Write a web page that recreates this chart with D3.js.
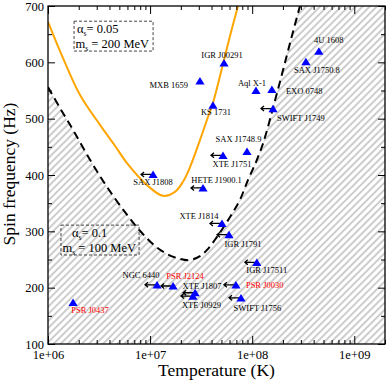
<!DOCTYPE html>
<html>
<head>
<meta charset="utf-8">
<script src="https://cdn.jsdelivr.net/npm/d3@7"></script>
<style>
  body { margin: 0; background: #fff; }
  #chart { width: 387px; height: 382px; }
  text { font-family: "Liberation Serif", "Times New Roman", serif; }
</style>
</head>
<body>
<div id="chart"></div>
<script>

// SOURCES (temperature in K, spin frequency in Hz)

const sourceNames = ["4U 1608", "SAX J1750.8", "IGR J00291", "MXB 1659", "KS 1731", "Aql X-1",
    "EXO 0748", "SWIFT J1749", "SAX J1748.9", "XTE J1751", "HETE J1900.1", "SAX J1808",
    "XTE J1814", "IGR J1791", "IGR J17511", "PSR J0030", "SWIFT J1756", "XTE J1807",
    "XTE J0929", "PSR J2124", "NGC 6440", "PSR J0437"];
const sourceTemps = [4.5e8, 3.36e8, 5.3e7, 3.08e7, 4.13e7, 1.09e8,
    1.56e8, 1.6e8, 8.9e7, 5.18e7, 3.3e7, 1.07e7,
    5.06e7, 5.93e7, 1.11e8, 6.93e7, 7.77e7, 2.76e7,
    2.63e7, 1.68e7, 1.17e7, 1.76e6];
const sourceFreqs = [620, 601, 599, 567, 524, 550,
    552, 518, 442, 435, 377, 401,
    314, 294, 245, 205, 182, 191,
    185, 203, 205, 174];

const redSources = ["PSR J0030", "PSR J2124", "PSR J0437"];

// temperature only an upper limit -> arrow to the left
const upperLimits = ["SWIFT J1749", "XTE J1751", "HETE J1900.1", "SAX J1808", "XTE J1814",
    "IGR J1791", "IGR J17511", "PSR J0030", "SWIFT J1756", "XTE J1807", "XTE J0929",
    "PSR J2124", "NGC 6440"];

// INSTABILITY CURVES

// alpha_s = 0.05, m_s = 200 MeV (orange)
const orangeTemps = [1.0e6, 1.4e6, 2.06e6, 3.23e6, 4.53e6, 5.94e6, 9.33e6, 1.34e7, 1.75e7,
    2.1e7, 2.46e7, 3.08e7, 3.61e7, 4.13e7, 5.18e7, 6.07e7, 7.26e7];
const orangeFreqs = [672, 608, 542, 489, 452, 421, 382, 363, 370,
    388, 414, 462, 498, 528, 597, 647, 700];

// alpha_s = 0.1, m_s = 100 MeV (black dashed)
const dashedTemps = [1.0e6, 1.31e6, 1.76e6, 2.58e6, 3.78e6, 5.68e6, 7.96e6, 1.12e7, 1.46e7,
    1.96e7, 2.46e7, 3.08e7, 3.61e7, 4.32e7, 5.18e7, 6.34e7, 7.59e7, 9.09e7, 1.09e8,
    1.25e8, 1.4e8, 1.6e8, 1.87e8, 2.19e8, 2.51e8, 2.94e8];
const dashedFreqs = [556, 519, 480, 427, 379, 334, 301, 274, 260,
    251, 249, 256, 267, 285, 306, 331, 356, 391, 423,
    451, 480, 519, 565, 613, 654, 700];

// TICKS

const xTicks = [1e6, 1e7, 1e8, 1e9];
const xTickLabels = ["1e+06", "1e+07", "1e+08", "1e+09"];
const yTicks = [100, 200, 300, 400, 500, 600, 700];
const yMinorTicks = [150, 250, 350, 450, 550, 650];

// label placement (pixels from marker): [dx, dy, anchor]
const labelPos = {
    "4U 1608": [10, -8, "middle"],
    "SAX J1750.8": [11, 11, "middle"],
    "IGR J00291": [-2, -5, "middle"],
    "MXB 1659": [-12, 7, "end"],
    "KS 1731": [3, 10, "middle"],
    "Aql X-1": [-4, -4.5, "middle"],
    "EXO 0748": [14, 4.5, "start"],
    "SWIFT J1749": [4, 12, "start"],
    "SAX J1748.9": [-8.5, -9.5, "middle"],
    "XTE J1751": [9, 11.5, "middle"],
    "HETE J1900.1": [13.5, -5, "middle"],
    "SAX J1808": [0, 11, "middle"],
    "XTE J1814": [-23, -4, "middle"],
    "IGR J1791": [14, 12.5, "middle"],
    "IGR J17511": [10, 11, "middle"],
    "PSR J0030": [10, 3, "start"],
    "SWIFT J1756": [16.5, 13, "middle"],
    "XTE J1807": [7, -3.5, "middle"],
    "XTE J0929": [8.5, 12, "middle"],
    "PSR J2124": [12, -7, "middle"],
    "NGC 6440": [-16, -7, "middle"],
    "PSR J0437": [17, 11, "middle"]
};

// SVG CANVAS

const width = 387;
const height = 382;
const margin = {top: 6, left: 48, right: 2, bottom: 38};

const svg = d3.select("#chart")
    .append("svg")
    .attr("width", width)
    .attr("height", height);

const defs = svg.append("defs");

const hatch = defs.append("pattern")
    .attr("id", "hatch")
    .attr("patternUnits", "userSpaceOnUse")
    .attr("width", 5)
    .attr("height", 5)
    .attr("patternTransform", "rotate(45)");
hatch.append("rect").attr("width", 5).attr("height", 5).attr("fill", "#ffffff");
hatch.append("rect").attr("width", 2).attr("height", 5).attr("fill", "#cdcdcd");

defs.append("clipPath")
    .attr("id", "plotClip")
    .append("rect")
    .attr("x", margin.left)
    .attr("y", margin.top)
    .attr("width", width - margin.left - margin.right)
    .attr("height", height - margin.top - margin.bottom);

// SCALES

const xScale = d3.scaleLog()
    .domain([1e6, 2e9])
    .range([margin.left, width - margin.right]);

const yScale = d3.scaleLinear()
    .domain([100, 700])
    .range([height - margin.bottom, margin.top]);

const g = svg.append("g");
const plot = g.append("g").attr("clip-path", "url(#plotClip)");

// HATCHED BACKGROUND, white above dashed curve

plot.append("rect")
    .attr("x", margin.left)
    .attr("y", margin.top)
    .attr("width", width - margin.left - margin.right)
    .attr("height", height - margin.top - margin.bottom)
    .attr("fill", "url(#hatch)");

const dashedData = dashedTemps.map(function(t, i) { return {t: t, f: dashedFreqs[i]}; });
const orangeData = orangeTemps.map(function(t, i) { return {t: t, f: orangeFreqs[i]}; });

const whiteArea = d3.area()
    .x(function(d) { return xScale(d.t); })
    .y0(margin.top)
    .y1(function(d) { return yScale(d.f); })
    .curve(d3.curveCatmullRom);

plot.append("path")
    .datum(dashedData)
    .attr("d", whiteArea)
    .attr("fill", "#ffffff");

// BOXES

function drawBox(t0, t1, f0, f1, line1, line2, first) {
    const bx = xScale(t0), by = yScale(f0);
    const bw = xScale(t1) - bx, bh = yScale(f1) - by;
    g.append("rect")
        .attr("x", bx).attr("y", by)
        .attr("width", bw).attr("height", bh)
        .attr("fill", "none")
        .attr("stroke", "#444")
        .attr("stroke-width", 1)
        .attr("stroke-dasharray", "3,2");
    const t1el = g.append("text")
        .attr("x", bx + first).attr("y", by + 12)
        .attr("font-size", 12.5);
    t1el.append("tspan").text("α");
    t1el.append("tspan").attr("font-size", 7.5).attr("dy", 2.5).text("s");
    t1el.append("tspan").attr("dy", -2.5).text("= " + line1);
    const t2el = g.append("text")
        .attr("x", bx + 1.5).attr("y", by + 27)
        .attr("font-size", 12.5);
    t2el.append("tspan").text("m");
    t2el.append("tspan").attr("font-size", 7.5).attr("dy", 2.5).text("s");
    t2el.append("tspan").attr("dy", -2.5).text(" = " + line2);
}

drawBox(1.8e6, 1.07e7, 673, 620, "0.05", "200 MeV", 3);
drawBox(1.34e6, 7.8e6, 311, 258, "0.1", "100 MeV", 11);

// CURVES

const line = d3.line()
    .x(function(d) { return xScale(d.t); })
    .y(function(d) { return yScale(d.f); })
    .curve(d3.curveCatmullRom);

plot.append("path")
    .datum(orangeData)
    .attr("d", line)
    .attr("fill", "none")
    .attr("stroke", "#ffa500")
    .attr("stroke-width", 2);

plot.append("path")
    .datum(dashedData)
    .attr("d", line)
    .attr("fill", "none")
    .attr("stroke", "#000")
    .attr("stroke-width", 2)
    .attr("stroke-dasharray", "8,5");

// AXES

const xMinor = [];
[1e6, 1e7, 1e8, 1e9].forEach(function(dec) {
    for (let m = 2; m <= 9; m++) {
        if (m * dec <= 2e9) xMinor.push(m * dec);
    }
});

function styleAxis(sel) {
    sel.select(".domain").remove();
    sel.selectAll("line").attr("stroke", "#000").attr("stroke-width", 1);
    sel.selectAll("text")
        .attr("fill", "#000")
        .attr("font-size", 12.5)
        .attr("font-family", "Liberation Serif, serif");
}

g.append("g")
    .attr("transform", `translate(0,${height - margin.bottom})`)
    .call(d3.axisBottom(xScale).tickValues(xTicks).tickSize(-8).tickPadding(6)
        .tickFormat(function(d, i) { return xTickLabels[i]; }))
    .call(styleAxis);
g.append("g")
    .attr("transform", `translate(0,${height - margin.bottom})`)
    .call(d3.axisBottom(xScale).tickValues(xMinor).tickSize(-4).tickFormat(""))
    .call(styleAxis);
g.append("g")
    .attr("transform", `translate(0,${margin.top})`)
    .call(d3.axisTop(xScale).tickValues(xTicks).tickSize(-8).tickFormat(""))
    .call(styleAxis);
g.append("g")
    .attr("transform", `translate(0,${margin.top})`)
    .call(d3.axisTop(xScale).tickValues(xMinor).tickSize(-4).tickFormat(""))
    .call(styleAxis);

g.append("g")
    .attr("transform", `translate(${margin.left},0)`)
    .call(d3.axisLeft(yScale).tickValues(yTicks).tickSize(-7).tickPadding(4))
    .call(styleAxis);
g.append("g")
    .attr("transform", `translate(${margin.left},0)`)
    .call(d3.axisLeft(yScale).tickValues(yMinorTicks).tickSize(-4).tickFormat(""))
    .call(styleAxis);
g.append("g")
    .attr("transform", `translate(${width - margin.right},0)`)
    .call(d3.axisRight(yScale).tickValues(yTicks).tickSize(-7).tickFormat(""))
    .call(styleAxis);
g.append("g")
    .attr("transform", `translate(${width - margin.right},0)`)
    .call(d3.axisRight(yScale).tickValues(yMinorTicks).tickSize(-4).tickFormat(""))
    .call(styleAxis);

g.append("rect")
    .attr("x", margin.left)
    .attr("y", margin.top)
    .attr("width", width - margin.left - margin.right)
    .attr("height", height - margin.top - margin.bottom)
    .attr("fill", "none")
    .attr("stroke", "#000")
    .attr("stroke-width", 1.3);

// AXIS LABELS

g.append("text")
    .attr("x", (margin.left + width - margin.right) / 2)
    .attr("y", height - 6)
    .attr("text-anchor", "middle")
    .attr("font-size", 17.5)
    .text("Temperature (K)");

g.append("text")
    .attr("transform", "rotate(-90)")
    .attr("x", -174)
    .attr("y", 15)
    .attr("text-anchor", "middle")
    .attr("font-size", 17.5)
    .text("Spin frequency (Hz)");

// SOURCES

const sources = sourceNames.map(function(n, i) {
    return {name: n, t: sourceTemps[i], f: sourceFreqs[i]};
});

const arrowG = g.append("g");
sources.filter(function(d) { return upperLimits.includes(d.name); })
    .forEach(function(d) {
        const cx = xScale(d.t), cy = yScale(d.f);
        arrowG.append("path")
            .attr("d", `M${cx - 2},${cy} L${cx - 12},${cy} M${cx - 9},${cy - 2.5} L${cx - 12},${cy} L${cx - 9},${cy + 2.5}`)
            .attr("fill", "none")
            .attr("stroke", "#000")
            .attr("stroke-width", 1.3);
    });

g.selectAll(".star")
    .data(sources)
    .enter()
    .append("path")
    .attr("class", "star")
    .attr("transform", function(d) { return `translate(${xScale(d.t)},${yScale(d.f)})`; })
    .attr("d", "M0,-3.9 L4.6,3.6 L-4.6,3.6 Z")
    .attr("fill", "#0000ff");

g.selectAll(".srcLabel")
    .data(sources)
    .enter()
    .append("text")
    .attr("class", "srcLabel")
    .attr("x", function(d) { return xScale(d.t) + labelPos[d.name][0]; })
    .attr("y", function(d) { return yScale(d.f) + labelPos[d.name][1]; })
    .attr("text-anchor", function(d) { return labelPos[d.name][2]; })
    .attr("font-size", 8.5)
    .attr("fill", function(d) { return redSources.includes(d.name) ? "#ff0000" : "#000"; })
    .text(function(d) { return d.name; });

</script>
</body>
</html>
